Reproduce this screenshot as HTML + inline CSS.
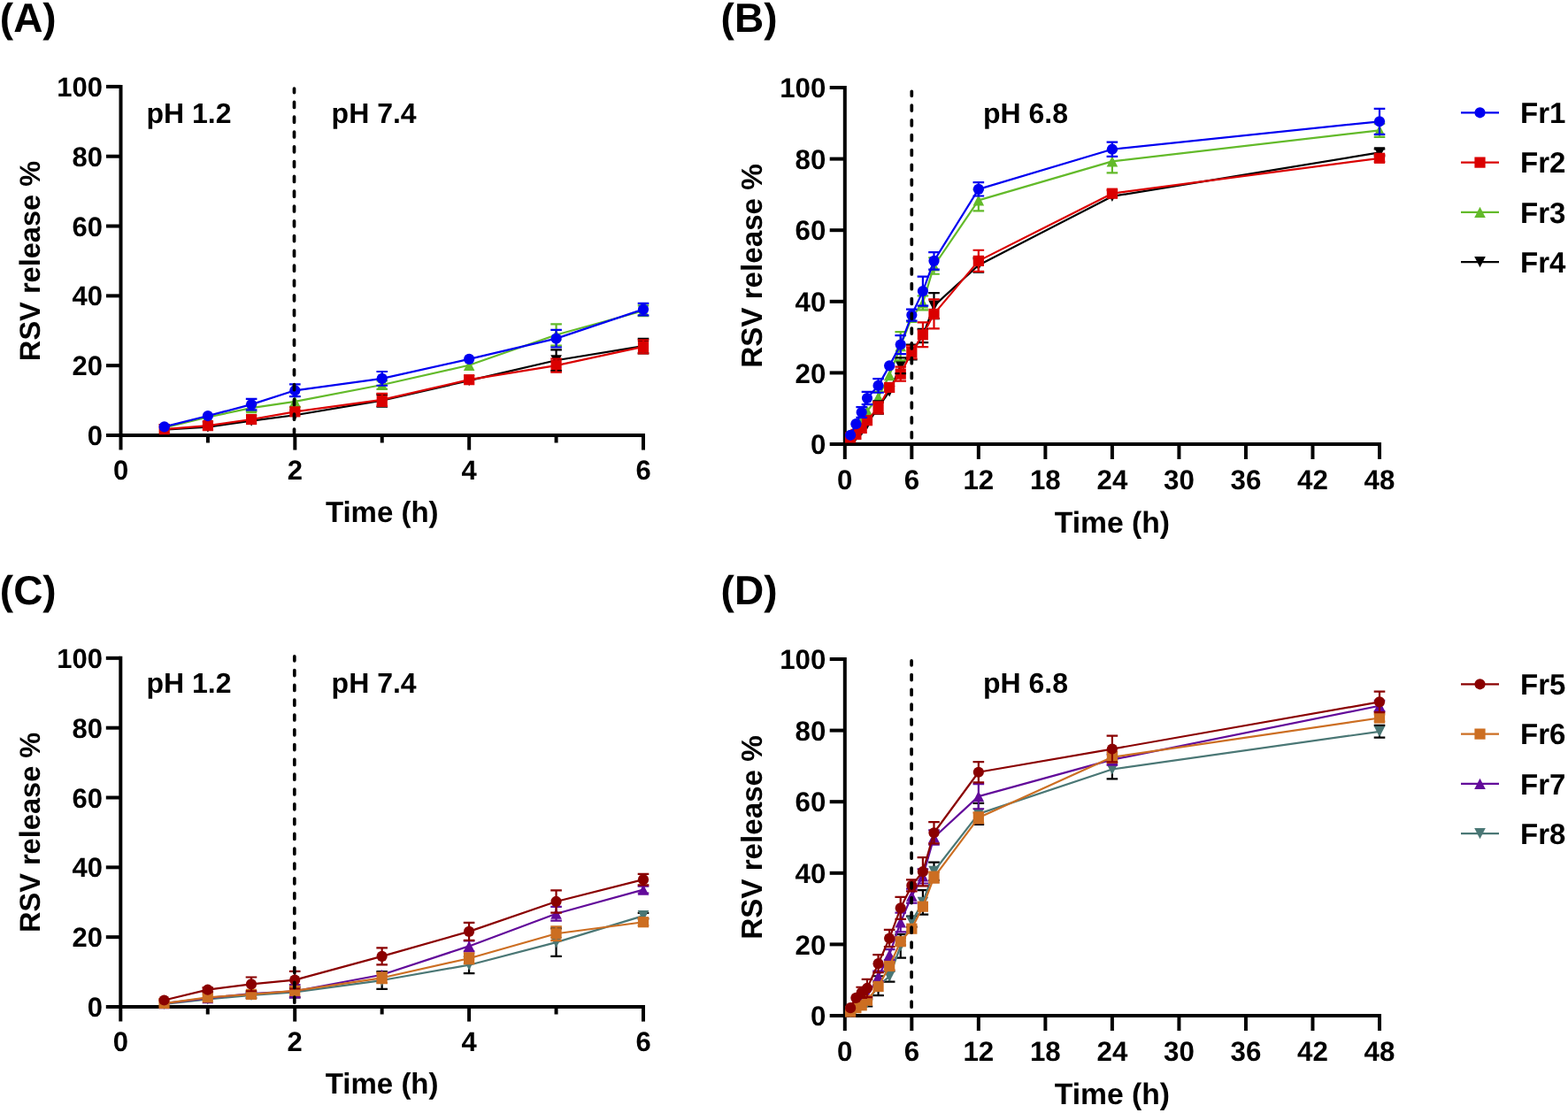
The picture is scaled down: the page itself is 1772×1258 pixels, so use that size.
<!DOCTYPE html>
<html><head><meta charset="utf-8"><title>RSV release profiles</title>
<style>
html,body{margin:0;padding:0;background:#fff;}
svg{display:block;}
text{font-family:'Liberation Sans', Arial, Helvetica, sans-serif;font-weight:bold;fill:#000;text-rendering:geometricPrecision;}
</style></head>
<body>
<svg width="1772" height="1258" viewBox="0 0 1772 1258">
<rect width="1772" height="1258" fill="#fff"/>
<path d="M136.50 95.90V508.60" stroke="#000" stroke-width="4" fill="none"/>
<path d="M120.00 492.00H729.00" stroke="#000" stroke-width="4" fill="none"/>
<path d="M120.00 413.18H136.50" stroke="#000" stroke-width="4"/>
<path d="M120.00 334.36H136.50" stroke="#000" stroke-width="4"/>
<path d="M120.00 255.54H136.50" stroke="#000" stroke-width="4"/>
<path d="M120.00 176.72H136.50" stroke="#000" stroke-width="4"/>
<path d="M120.00 97.90H136.50" stroke="#000" stroke-width="4"/>
<path d="M333.33 492.00V508.60" stroke="#000" stroke-width="4"/>
<path d="M530.17 492.00V508.60" stroke="#000" stroke-width="4"/>
<path d="M727.00 492.00V508.60" stroke="#000" stroke-width="4"/>
<path d="M234.92 492.00V500.50" stroke="#000" stroke-width="4"/>
<path d="M431.75 492.00V500.50" stroke="#000" stroke-width="4"/>
<path d="M628.58 492.00V500.50" stroke="#000" stroke-width="4"/>
<path d="M431.75 445.58V459.76M628.58 395.45V419.09M727.00 382.83V399.39" stroke="#000000" stroke-width="2.2" fill="none"/>
<path d="M185.71 485.54L234.92 482.66L284.12 475.57L333.33 469.22L431.75 452.67L530.17 430.13L628.58 407.27L727.00 391.11" stroke="#000000" stroke-width="2.2" fill="none" stroke-linejoin="round"/>
<path d="M185.71 491.64L192.01 479.44L179.41 479.44Z" fill="#000000"/>
<path d="M234.92 488.76L241.22 476.56L228.62 476.56Z" fill="#000000"/>
<path d="M284.12 481.67L290.43 469.47L277.82 469.47Z" fill="#000000"/>
<path d="M333.33 475.32L339.63 463.12L327.03 463.12Z" fill="#000000"/>
<path d="M431.75 458.77L438.05 446.57L425.45 446.57Z" fill="#000000"/>
<path d="M530.17 436.23L536.47 424.03L523.87 424.03Z" fill="#000000"/>
<path d="M628.58 413.37L634.88 401.17L622.28 401.17Z" fill="#000000"/>
<path d="M727.00 397.21L733.30 385.01L720.70 385.01Z" fill="#000000"/>
<path d="M284.12 457.12V465.00M333.33 448.02V459.84M431.75 430.28V439.74M628.58 366.28V390.72M727.00 345.39V357.22" stroke="#63BA2A" stroke-width="2.2" fill="none"/>
<path d="M277.82 457.12H290.43M277.82 465.00H290.43M327.03 448.02H339.63M327.03 459.84H339.63M425.45 430.28H438.05M425.45 439.74H438.05M622.28 366.28H634.88M622.28 390.72H634.88M720.70 345.39H733.30M720.70 357.22H733.30" stroke="#63BA2A" stroke-width="2.2" fill="none"/>
<path d="M185.71 483.33L234.92 471.51L284.12 461.06L333.33 453.93L431.75 435.01L530.17 412.79L628.58 378.50L727.00 351.31" stroke="#63BA2A" stroke-width="2.2" fill="none" stroke-linejoin="round"/>
<path d="M185.71 477.23L192.01 489.43L179.41 489.43Z" fill="#63BA2A"/>
<path d="M234.92 465.41L241.22 477.61L228.62 477.61Z" fill="#63BA2A"/>
<path d="M284.12 454.96L290.43 467.16L277.82 467.16Z" fill="#63BA2A"/>
<path d="M333.33 447.83L339.63 460.03L327.03 460.03Z" fill="#63BA2A"/>
<path d="M431.75 428.91L438.05 441.11L425.45 441.11Z" fill="#63BA2A"/>
<path d="M530.17 406.69L536.47 418.89L523.87 418.89Z" fill="#63BA2A"/>
<path d="M628.58 372.40L634.88 384.60L622.28 384.60Z" fill="#63BA2A"/>
<path d="M727.00 345.21L733.30 357.41L720.70 357.41Z" fill="#63BA2A"/>
<path d="M185.71 485.06L234.92 481.12L284.12 474.03L333.33 465.32L431.75 451.88L530.17 429.18L628.58 413.18L727.00 391.90" stroke="#DA0000" stroke-width="2.2" fill="none" stroke-linejoin="round"/>
<rect x="179.61" y="478.96" width="12.20" height="12.20" fill="#DA0000"/>
<rect x="228.82" y="475.02" width="12.20" height="12.20" fill="#DA0000"/>
<rect x="278.02" y="467.93" width="12.20" height="12.20" fill="#DA0000"/>
<rect x="327.23" y="459.22" width="12.20" height="12.20" fill="#DA0000"/>
<rect x="425.65" y="445.78" width="12.20" height="12.20" fill="#DA0000"/>
<rect x="524.07" y="423.08" width="12.20" height="12.20" fill="#DA0000"/>
<rect x="622.48" y="407.08" width="12.20" height="12.20" fill="#DA0000"/>
<rect x="720.90" y="385.80" width="12.20" height="12.20" fill="#DA0000"/>
<path d="M425.45 445.58H438.05M425.45 459.76H438.05M622.28 395.45H634.88M622.28 419.09H634.88M720.70 382.83H733.30M720.70 399.39H733.30" stroke="#000000" stroke-width="2.2" fill="none"/>
<path d="M431.75 444.79V458.97M628.58 405.69V420.67M727.00 384.41V399.39" stroke="#DA0000" stroke-width="2.2" fill="none"/>
<path d="M425.45 444.79H438.05M425.45 458.97H438.05M622.28 405.69H634.88M622.28 420.67H634.88M720.70 384.41H733.30M720.70 399.39H733.30" stroke="#DA0000" stroke-width="2.2" fill="none"/>
<path d="M284.12 450.86V463.31M333.33 434.46V448.18M431.75 420.00V435.76M628.58 372.78V392.49M727.00 342.83V356.39" stroke="#0000F0" stroke-width="2.2" fill="none"/>
<path d="M277.82 450.86H290.43M277.82 463.31H290.43M327.03 434.46H339.63M327.03 448.18H339.63M425.45 420.00H438.05M425.45 435.76H438.05M622.28 372.78H634.88M622.28 392.49H634.88M720.70 342.83H733.30M720.70 356.39H733.30" stroke="#0000F0" stroke-width="2.2" fill="none"/>
<path d="M185.71 482.38L234.92 470.05L284.12 457.08L333.33 441.32L431.75 427.88L530.17 405.85L628.58 382.64L727.00 349.61" stroke="#0000F0" stroke-width="2.2" fill="none" stroke-linejoin="round"/>
<circle cx="185.71" cy="482.38" r="6.10" fill="#0000F0"/>
<circle cx="234.92" cy="470.05" r="6.10" fill="#0000F0"/>
<circle cx="284.12" cy="457.08" r="6.10" fill="#0000F0"/>
<circle cx="333.33" cy="441.32" r="6.10" fill="#0000F0"/>
<circle cx="431.75" cy="427.88" r="6.10" fill="#0000F0"/>
<circle cx="530.17" cy="405.85" r="6.10" fill="#0000F0"/>
<circle cx="628.58" cy="382.64" r="6.10" fill="#0000F0"/>
<circle cx="727.00" cy="349.61" r="6.10" fill="#0000F0"/>
<path d="M332.50 100.10V489.50" stroke="#000" stroke-width="3.7" stroke-dasharray="6 10.8" stroke-dashoffset="1.5" stroke-linecap="round" fill="none"/>
<text x="116.00" y="503.10" font-size="31" text-anchor="end" >0</text>
<text x="116.00" y="424.28" font-size="31" text-anchor="end" >20</text>
<text x="116.00" y="345.46" font-size="31" text-anchor="end" >40</text>
<text x="116.00" y="266.64" font-size="31" text-anchor="end" >60</text>
<text x="116.00" y="187.82" font-size="31" text-anchor="end" >80</text>
<text x="116.00" y="109.00" font-size="31" text-anchor="end" >100</text>
<text x="136.50" y="542.00" font-size="31" text-anchor="middle" >0</text>
<text x="333.33" y="542.00" font-size="31" text-anchor="middle" >2</text>
<text x="530.17" y="542.00" font-size="31" text-anchor="middle" >4</text>
<text x="727.00" y="542.00" font-size="31" text-anchor="middle" >6</text>
<text x="0" y="0" font-size="32.6" text-anchor="middle" transform="translate(45.10 294.95) rotate(-90)">RSV release %</text>
<text x="431.75" y="590.10" font-size="33.0" text-anchor="middle" >Time (h)</text>
<text x="165.50" y="139.10" font-size="32" text-anchor="start" >pH 1.2</text>
<text x="374.60" y="139.10" font-size="32" text-anchor="start" >pH 7.4</text>
<text x="-0.20" y="36.30" font-size="46" text-anchor="start" >(A)</text>
<path d="M954.80 97.00V519.00" stroke="#000" stroke-width="4" fill="none"/>
<path d="M937.70 502.00H1561.00" stroke="#000" stroke-width="4" fill="none"/>
<path d="M937.70 421.40H954.80" stroke="#000" stroke-width="4"/>
<path d="M937.70 340.80H954.80" stroke="#000" stroke-width="4"/>
<path d="M937.70 260.20H954.80" stroke="#000" stroke-width="4"/>
<path d="M937.70 179.60H954.80" stroke="#000" stroke-width="4"/>
<path d="M937.70 99.00H954.80" stroke="#000" stroke-width="4"/>
<path d="M1030.33 502.00V519.00" stroke="#000" stroke-width="4"/>
<path d="M1105.85 502.00V519.00" stroke="#000" stroke-width="4"/>
<path d="M1181.38 502.00V519.00" stroke="#000" stroke-width="4"/>
<path d="M1256.90 502.00V519.00" stroke="#000" stroke-width="4"/>
<path d="M1332.42 502.00V519.00" stroke="#000" stroke-width="4"/>
<path d="M1407.95 502.00V519.00" stroke="#000" stroke-width="4"/>
<path d="M1483.47 502.00V519.00" stroke="#000" stroke-width="4"/>
<path d="M1559.00 502.00V519.00" stroke="#000" stroke-width="4"/>
<path d="M992.56 453.24V467.75M1017.74 404.47V422.21M1030.33 389.56V406.49M1042.91 371.83V387.14M1055.50 331.13V360.14M1105.85 291.63V307.75M1559.00 168.32V176.38" stroke="#000000" stroke-width="2.2" fill="none"/>
<path d="M1024.03 389.56H1036.62M1024.03 406.49H1036.62M1036.61 371.83H1049.21M1036.61 387.14H1049.21M1049.20 331.13H1061.80M1049.20 360.14H1061.80M1099.55 291.63H1112.15M1099.55 307.75H1112.15M1552.70 168.32H1565.30M1552.70 176.38H1565.30" stroke="#000000" stroke-width="2.2" fill="none"/>
<path d="M961.09 495.95L967.39 492.33L973.68 486.69L979.97 479.43L992.56 460.49L1005.15 442.36L1017.74 413.34L1030.33 398.03L1042.91 379.49L1055.50 345.64L1105.85 299.69L1256.90 221.92L1559.00 172.35" stroke="#000000" stroke-width="2.2" fill="none" stroke-linejoin="round"/>
<path d="M961.09 502.06L967.39 489.85L954.79 489.85Z" fill="#000000"/>
<path d="M967.39 498.43L973.69 486.23L961.09 486.23Z" fill="#000000"/>
<path d="M973.68 492.79L979.98 480.59L967.38 480.59Z" fill="#000000"/>
<path d="M979.97 485.53L986.27 473.33L973.67 473.33Z" fill="#000000"/>
<path d="M992.56 466.59L998.86 454.39L986.26 454.39Z" fill="#000000"/>
<path d="M1005.15 448.46L1011.45 436.26L998.85 436.26Z" fill="#000000"/>
<path d="M1017.74 419.44L1024.04 407.24L1011.44 407.24Z" fill="#000000"/>
<path d="M1030.33 404.13L1036.62 391.93L1024.03 391.93Z" fill="#000000"/>
<path d="M1042.91 385.59L1049.21 373.39L1036.61 373.39Z" fill="#000000"/>
<path d="M1055.50 351.74L1061.80 339.54L1049.20 339.54Z" fill="#000000"/>
<path d="M1105.85 305.79L1112.15 293.59L1099.55 293.59Z" fill="#000000"/>
<path d="M1256.90 228.02L1263.20 215.82L1250.60 215.82Z" fill="#000000"/>
<path d="M1559.00 178.45L1565.30 166.25L1552.70 166.25Z" fill="#000000"/>
<path d="M992.56 442.76V454.85M1017.74 375.06V407.30M1042.91 334.35V350.47M1055.50 291.23V309.77M1105.85 214.26V238.44M1256.90 169.52V195.32M1559.00 139.70V155.02" stroke="#63BA2A" stroke-width="2.2" fill="none"/>
<path d="M986.26 442.76H998.86M986.26 454.85H998.86M1011.44 375.06H1024.04M1011.44 407.30H1024.04M1036.61 334.35H1049.21M1036.61 350.47H1049.21M1049.20 291.23H1061.80M1049.20 309.77H1061.80M1099.55 214.26H1112.15M1099.55 238.44H1112.15M1250.60 169.52H1263.20M1250.60 195.32H1263.20M1552.70 139.70H1565.30M1552.70 155.02H1565.30" stroke="#63BA2A" stroke-width="2.2" fill="none"/>
<path d="M961.09 492.73L967.39 483.46L973.68 474.19L979.97 464.52L992.56 448.80L1005.15 424.22L1017.74 391.18L1030.33 358.94L1042.91 342.41L1055.50 300.50L1105.85 226.35L1256.90 182.42L1559.00 147.36" stroke="#63BA2A" stroke-width="2.2" fill="none" stroke-linejoin="round"/>
<path d="M961.09 486.63L967.39 498.83L954.79 498.83Z" fill="#63BA2A"/>
<path d="M967.39 477.36L973.69 489.56L961.09 489.56Z" fill="#63BA2A"/>
<path d="M973.68 468.09L979.98 480.29L967.38 480.29Z" fill="#63BA2A"/>
<path d="M979.97 458.42L986.27 470.62L973.67 470.62Z" fill="#63BA2A"/>
<path d="M992.56 442.70L998.86 454.90L986.26 454.90Z" fill="#63BA2A"/>
<path d="M1005.15 418.12L1011.45 430.32L998.85 430.32Z" fill="#63BA2A"/>
<path d="M1017.74 385.07L1024.04 397.28L1011.44 397.28Z" fill="#63BA2A"/>
<path d="M1030.33 352.83L1036.62 365.04L1024.03 365.04Z" fill="#63BA2A"/>
<path d="M1042.91 336.31L1049.21 348.51L1036.61 348.51Z" fill="#63BA2A"/>
<path d="M1055.50 294.40L1061.80 306.60L1049.20 306.60Z" fill="#63BA2A"/>
<path d="M1105.85 220.25L1112.15 232.45L1099.55 232.45Z" fill="#63BA2A"/>
<path d="M1256.90 176.32L1263.20 188.52L1250.60 188.52Z" fill="#63BA2A"/>
<path d="M1559.00 141.26L1565.30 153.46L1552.70 153.46Z" fill="#63BA2A"/>
<path d="M961.09 494.42L967.39 490.92L973.68 483.95L979.97 475.20L992.56 460.89L1005.15 437.92L1017.74 422.61L1030.33 398.03L1042.91 378.28L1055.50 354.90L1105.85 294.86L1256.90 218.69L1559.00 178.79" stroke="#DA0000" stroke-width="2.2" fill="none" stroke-linejoin="round"/>
<rect x="954.99" y="488.32" width="12.20" height="12.20" fill="#DA0000"/>
<rect x="961.29" y="484.82" width="12.20" height="12.20" fill="#DA0000"/>
<rect x="967.58" y="477.85" width="12.20" height="12.20" fill="#DA0000"/>
<rect x="973.87" y="469.10" width="12.20" height="12.20" fill="#DA0000"/>
<rect x="986.46" y="454.79" width="12.20" height="12.20" fill="#DA0000"/>
<rect x="999.05" y="431.82" width="12.20" height="12.20" fill="#DA0000"/>
<rect x="1011.64" y="416.51" width="12.20" height="12.20" fill="#DA0000"/>
<rect x="1024.23" y="391.93" width="12.20" height="12.20" fill="#DA0000"/>
<rect x="1036.81" y="372.18" width="12.20" height="12.20" fill="#DA0000"/>
<rect x="1049.40" y="348.80" width="12.20" height="12.20" fill="#DA0000"/>
<rect x="1099.75" y="288.76" width="12.20" height="12.20" fill="#DA0000"/>
<rect x="1250.80" y="212.59" width="12.20" height="12.20" fill="#DA0000"/>
<rect x="1552.90" y="172.69" width="12.20" height="12.20" fill="#DA0000"/>
<path d="M986.26 453.24H998.86M986.26 467.75H998.86M1011.44 404.47H1024.04M1011.44 422.21H1024.04" stroke="#000000" stroke-width="2.2" fill="none"/>
<path d="M992.56 454.45V467.34M1017.74 414.55V430.67M1030.33 390.77V405.28M1042.91 364.38V392.18M1055.50 338.38V371.43M1105.85 282.77V306.95M1256.90 214.66V222.72M1559.00 174.76V182.82" stroke="#DA0000" stroke-width="2.2" fill="none"/>
<path d="M986.26 454.45H998.86M986.26 467.34H998.86M1011.44 414.55H1024.04M1011.44 430.67H1024.04M1024.03 390.77H1036.62M1024.03 405.28H1036.62M1036.61 364.38H1049.21M1036.61 392.18H1049.21M1049.20 338.38H1061.80M1049.20 371.43H1061.80M1099.55 282.77H1112.15M1099.55 306.95H1112.15M1250.60 214.66H1263.20M1250.60 222.72H1263.20M1552.70 174.76H1565.30M1552.70 182.82H1565.30" stroke="#DA0000" stroke-width="2.2" fill="none"/>
<path d="M973.68 460.17V471.86M979.97 442.88V457.15M992.56 428.05V443.77M1017.74 379.08V400.04M1030.33 349.67V362.56M1042.91 312.59V345.64M1055.50 285.19V304.53M1105.85 206.20V221.51M1256.90 160.66V176.78M1559.00 122.78V151.79" stroke="#0000F0" stroke-width="2.2" fill="none"/>
<path d="M967.38 460.17H979.98M967.38 471.86H979.98M973.67 442.88H986.27M973.67 457.15H986.27M986.26 428.05H998.86M986.26 443.77H998.86M1011.44 379.08H1024.04M1011.44 400.04H1024.04M1024.03 349.67H1036.62M1024.03 362.56H1036.62M1036.61 312.59H1049.21M1036.61 345.64H1049.21M1049.20 285.19H1061.80M1049.20 304.53H1061.80M1099.55 206.20H1112.15M1099.55 221.51H1112.15M1250.60 160.66H1263.20M1250.60 176.78H1263.20M1552.70 122.78H1565.30M1552.70 151.79H1565.30" stroke="#0000F0" stroke-width="2.2" fill="none"/>
<path d="M961.09 491.80L967.39 479.15L973.68 466.01L979.97 450.01L992.56 435.91L1005.15 413.34L1017.74 389.56L1030.33 356.11L1042.91 329.11L1055.50 294.86L1105.85 213.86L1256.90 168.72L1559.00 137.29" stroke="#0000F0" stroke-width="2.2" fill="none" stroke-linejoin="round"/>
<circle cx="961.09" cy="491.80" r="6.10" fill="#0000F0"/>
<circle cx="967.39" cy="479.15" r="6.10" fill="#0000F0"/>
<circle cx="973.68" cy="466.01" r="6.10" fill="#0000F0"/>
<circle cx="979.97" cy="450.01" r="6.10" fill="#0000F0"/>
<circle cx="992.56" cy="435.91" r="6.10" fill="#0000F0"/>
<circle cx="1005.15" cy="413.34" r="6.10" fill="#0000F0"/>
<circle cx="1017.74" cy="389.56" r="6.10" fill="#0000F0"/>
<circle cx="1030.33" cy="356.11" r="6.10" fill="#0000F0"/>
<circle cx="1042.91" cy="329.11" r="6.10" fill="#0000F0"/>
<circle cx="1055.50" cy="294.86" r="6.10" fill="#0000F0"/>
<circle cx="1105.85" cy="213.86" r="6.10" fill="#0000F0"/>
<circle cx="1256.90" cy="168.72" r="6.10" fill="#0000F0"/>
<circle cx="1559.00" cy="137.29" r="6.10" fill="#0000F0"/>
<path d="M1030.30 103.30V499.50" stroke="#000" stroke-width="3.7" stroke-dasharray="6 10.8" stroke-dashoffset="1.0" stroke-linecap="round" fill="none"/>
<text x="933.40" y="513.21" font-size="31.3" text-anchor="end" >0</text>
<text x="933.40" y="432.61" font-size="31.3" text-anchor="end" >20</text>
<text x="933.40" y="352.01" font-size="31.3" text-anchor="end" >40</text>
<text x="933.40" y="271.41" font-size="31.3" text-anchor="end" >60</text>
<text x="933.40" y="190.81" font-size="31.3" text-anchor="end" >80</text>
<text x="933.40" y="110.21" font-size="31.3" text-anchor="end" >100</text>
<text x="954.80" y="552.80" font-size="31.3" text-anchor="middle" >0</text>
<text x="1030.33" y="552.80" font-size="31.3" text-anchor="middle" >6</text>
<text x="1105.85" y="552.80" font-size="31.3" text-anchor="middle" >12</text>
<text x="1181.38" y="552.80" font-size="31.3" text-anchor="middle" >18</text>
<text x="1256.90" y="552.80" font-size="31.3" text-anchor="middle" >24</text>
<text x="1332.42" y="552.80" font-size="31.3" text-anchor="middle" >30</text>
<text x="1407.95" y="552.80" font-size="31.3" text-anchor="middle" >36</text>
<text x="1483.47" y="552.80" font-size="31.3" text-anchor="middle" >42</text>
<text x="1559.00" y="552.80" font-size="31.3" text-anchor="middle" >48</text>
<text x="0" y="0" font-size="33.2" text-anchor="middle" transform="translate(861.10 300.50) rotate(-90)">RSV release %</text>
<text x="1256.90" y="602.00" font-size="33.7" text-anchor="middle" >Time (h)</text>
<text x="1110.90" y="139.10" font-size="32" text-anchor="start" >pH 6.8</text>
<text x="814.60" y="36.10" font-size="46" text-anchor="start" >(B)</text>
<path d="M136.30 741.85V1154.60" stroke="#000" stroke-width="4" fill="none"/>
<path d="M119.80 1138.00H729.00" stroke="#000" stroke-width="4" fill="none"/>
<path d="M119.80 1059.17H136.30" stroke="#000" stroke-width="4"/>
<path d="M119.80 980.34H136.30" stroke="#000" stroke-width="4"/>
<path d="M119.80 901.51H136.30" stroke="#000" stroke-width="4"/>
<path d="M119.80 822.68H136.30" stroke="#000" stroke-width="4"/>
<path d="M119.80 743.85H136.30" stroke="#000" stroke-width="4"/>
<path d="M333.20 1138.00V1154.60" stroke="#000" stroke-width="4"/>
<path d="M530.10 1138.00V1154.60" stroke="#000" stroke-width="4"/>
<path d="M727.00 1138.00V1154.60" stroke="#000" stroke-width="4"/>
<path d="M234.75 1138.00V1146.50" stroke="#000" stroke-width="4"/>
<path d="M431.65 1138.00V1146.50" stroke="#000" stroke-width="4"/>
<path d="M628.55 1138.00V1146.50" stroke="#000" stroke-width="4"/>
<path d="M283.98 1121.84V1128.15M333.20 1115.53V1127.36M431.65 1098.19V1117.90M530.10 1081.24V1100.16M628.55 1049.32V1080.85M727.00 1031.97V1038.28" stroke="#000" stroke-width="2.2" fill="none"/>
<path d="M277.68 1121.84H290.28M277.68 1128.15H290.28M326.90 1115.53H339.50M326.90 1127.36H339.50M425.35 1098.19H437.95M425.35 1117.90H437.95M523.80 1081.24H536.40M523.80 1100.16H536.40M622.25 1049.32H634.85M622.25 1080.85H634.85M720.70 1031.97H733.30M720.70 1038.28H733.30" stroke="#000" stroke-width="2.2" fill="none"/>
<path d="M185.53 1134.85L234.75 1129.33L283.98 1124.99L333.20 1121.45L431.65 1108.04L530.10 1090.70L628.55 1065.08L727.00 1035.13" stroke="#4A7775" stroke-width="2.2" fill="none" stroke-linejoin="round"/>
<path d="M185.53 1140.95L191.82 1128.75L179.23 1128.75Z" fill="#4A7775"/>
<path d="M234.75 1135.43L241.05 1123.23L228.45 1123.23Z" fill="#4A7775"/>
<path d="M283.98 1131.09L290.28 1118.89L277.68 1118.89Z" fill="#4A7775"/>
<path d="M333.20 1127.55L339.50 1115.35L326.90 1115.35Z" fill="#4A7775"/>
<path d="M431.65 1114.14L437.95 1101.94L425.35 1101.94Z" fill="#4A7775"/>
<path d="M530.10 1096.80L536.40 1084.60L523.80 1084.60Z" fill="#4A7775"/>
<path d="M628.55 1071.18L634.85 1058.98L622.25 1058.98Z" fill="#4A7775"/>
<path d="M727.00 1041.23L733.30 1029.03L720.70 1029.03Z" fill="#4A7775"/>
<path d="M333.20 1113.17V1127.36M530.10 1063.51V1075.33M628.55 1024.88V1040.64M727.00 1001.62V1009.51" stroke="#620A9A" stroke-width="2.2" fill="none"/>
<path d="M326.90 1113.17H339.50M326.90 1127.36H339.50M523.80 1063.51H536.40M523.80 1075.33H536.40M622.25 1024.88H634.85M622.25 1040.64H634.85M720.70 1001.62H733.30M720.70 1009.51H733.30" stroke="#620A9A" stroke-width="2.2" fill="none"/>
<path d="M185.53 1134.06L234.75 1128.15L283.98 1123.02L333.20 1120.26L431.65 1101.74L530.10 1069.42L628.55 1032.76L727.00 1005.57" stroke="#620A9A" stroke-width="2.2" fill="none" stroke-linejoin="round"/>
<path d="M185.53 1127.96L191.82 1140.16L179.23 1140.16Z" fill="#620A9A"/>
<path d="M234.75 1122.05L241.05 1134.25L228.45 1134.25Z" fill="#620A9A"/>
<path d="M283.98 1116.92L290.28 1129.12L277.68 1129.12Z" fill="#620A9A"/>
<path d="M333.20 1114.16L339.50 1126.36L326.90 1126.36Z" fill="#620A9A"/>
<path d="M431.65 1095.64L437.95 1107.84L425.35 1107.84Z" fill="#620A9A"/>
<path d="M530.10 1063.32L536.40 1075.52L523.80 1075.52Z" fill="#620A9A"/>
<path d="M628.55 1026.66L634.85 1038.86L622.25 1038.86Z" fill="#620A9A"/>
<path d="M727.00 999.47L733.30 1011.67L720.70 1011.67Z" fill="#620A9A"/>
<path d="M431.65 1099.37V1111.20M530.10 1077.30V1089.13M628.55 1047.35V1063.11M727.00 1038.28V1046.16" stroke="#CC6E22" stroke-width="2.2" fill="none"/>
<path d="M425.35 1099.37H437.95M425.35 1111.20H437.95M523.80 1077.30H536.40M523.80 1089.13H536.40M622.25 1047.35H634.85M622.25 1063.11H634.85M720.70 1038.28H733.30M720.70 1046.16H733.30" stroke="#CC6E22" stroke-width="2.2" fill="none"/>
<path d="M185.53 1134.06L234.75 1127.36L283.98 1123.81L333.20 1119.87L431.65 1105.29L530.10 1083.21L628.55 1055.23L727.00 1042.22" stroke="#CC6E22" stroke-width="2.2" fill="none" stroke-linejoin="round"/>
<rect x="179.43" y="1127.96" width="12.20" height="12.20" fill="#CC6E22"/>
<rect x="228.65" y="1121.26" width="12.20" height="12.20" fill="#CC6E22"/>
<rect x="277.88" y="1117.71" width="12.20" height="12.20" fill="#CC6E22"/>
<rect x="327.10" y="1113.77" width="12.20" height="12.20" fill="#CC6E22"/>
<rect x="425.55" y="1099.19" width="12.20" height="12.20" fill="#CC6E22"/>
<rect x="524.00" y="1077.11" width="12.20" height="12.20" fill="#CC6E22"/>
<rect x="622.45" y="1049.13" width="12.20" height="12.20" fill="#CC6E22"/>
<rect x="720.90" y="1036.12" width="12.20" height="12.20" fill="#CC6E22"/>
<path d="M234.75 1116.32V1121.05M283.98 1104.50V1120.26M333.20 1097.80V1117.50M431.65 1071.39V1090.31M530.10 1042.81V1062.91M628.55 1006.35V1031.58M727.00 987.83V1000.44" stroke="#8A0000" stroke-width="2.2" fill="none"/>
<path d="M228.45 1116.32H241.05M228.45 1121.05H241.05M277.68 1104.50H290.28M277.68 1120.26H290.28M326.90 1097.80H339.50M326.90 1117.50H339.50M425.35 1071.39H437.95M425.35 1090.31H437.95M523.80 1042.81H536.40M523.80 1062.91H536.40M622.25 1006.35H634.85M622.25 1031.58H634.85M720.70 987.83H733.30M720.70 1000.44H733.30" stroke="#8A0000" stroke-width="2.2" fill="none"/>
<path d="M185.53 1130.51L234.75 1118.69L283.98 1112.38L333.20 1107.65L431.65 1080.85L530.10 1052.86L628.55 1018.97L727.00 994.14" stroke="#8A0000" stroke-width="2.2" fill="none" stroke-linejoin="round"/>
<circle cx="185.53" cy="1130.51" r="6.10" fill="#8A0000"/>
<circle cx="234.75" cy="1118.69" r="6.10" fill="#8A0000"/>
<circle cx="283.98" cy="1112.38" r="6.10" fill="#8A0000"/>
<circle cx="333.20" cy="1107.65" r="6.10" fill="#8A0000"/>
<circle cx="431.65" cy="1080.85" r="6.10" fill="#8A0000"/>
<circle cx="530.10" cy="1052.86" r="6.10" fill="#8A0000"/>
<circle cx="628.55" cy="1018.97" r="6.10" fill="#8A0000"/>
<circle cx="727.00" cy="994.14" r="6.10" fill="#8A0000"/>
<path d="M332.80 741.90V1135.50" stroke="#000" stroke-width="3.7" stroke-dasharray="6 10.8" stroke-dashoffset="1.1" stroke-linecap="round" fill="none"/>
<text x="116.00" y="1149.10" font-size="31" text-anchor="end" >0</text>
<text x="116.00" y="1070.27" font-size="31" text-anchor="end" >20</text>
<text x="116.00" y="991.44" font-size="31" text-anchor="end" >40</text>
<text x="116.00" y="912.61" font-size="31" text-anchor="end" >60</text>
<text x="116.00" y="833.78" font-size="31" text-anchor="end" >80</text>
<text x="116.00" y="754.95" font-size="31" text-anchor="end" >100</text>
<text x="136.30" y="1188.00" font-size="31" text-anchor="middle" >0</text>
<text x="333.20" y="1188.00" font-size="31" text-anchor="middle" >2</text>
<text x="530.10" y="1188.00" font-size="31" text-anchor="middle" >4</text>
<text x="727.00" y="1188.00" font-size="31" text-anchor="middle" >6</text>
<text x="0" y="0" font-size="32.6" text-anchor="middle" transform="translate(45.10 940.92) rotate(-90)">RSV release %</text>
<text x="431.65" y="1236.10" font-size="33.0" text-anchor="middle" >Time (h)</text>
<text x="165.50" y="782.50" font-size="32" text-anchor="start" >pH 1.2</text>
<text x="374.60" y="782.50" font-size="32" text-anchor="start" >pH 7.4</text>
<text x="-0.20" y="683.10" font-size="46" text-anchor="start" >(C)</text>
<path d="M954.80 743.00V1165.00" stroke="#000" stroke-width="4" fill="none"/>
<path d="M937.70 1148.00H1561.00" stroke="#000" stroke-width="4" fill="none"/>
<path d="M937.70 1067.40H954.80" stroke="#000" stroke-width="4"/>
<path d="M937.70 986.80H954.80" stroke="#000" stroke-width="4"/>
<path d="M937.70 906.20H954.80" stroke="#000" stroke-width="4"/>
<path d="M937.70 825.60H954.80" stroke="#000" stroke-width="4"/>
<path d="M937.70 745.00H954.80" stroke="#000" stroke-width="4"/>
<path d="M1030.33 1148.00V1165.00" stroke="#000" stroke-width="4"/>
<path d="M1105.85 1148.00V1165.00" stroke="#000" stroke-width="4"/>
<path d="M1181.38 1148.00V1165.00" stroke="#000" stroke-width="4"/>
<path d="M1256.90 1148.00V1165.00" stroke="#000" stroke-width="4"/>
<path d="M1332.42 1148.00V1165.00" stroke="#000" stroke-width="4"/>
<path d="M1407.95 1148.00V1165.00" stroke="#000" stroke-width="4"/>
<path d="M1483.47 1148.00V1165.00" stroke="#000" stroke-width="4"/>
<path d="M1559.00 1148.00V1165.00" stroke="#000" stroke-width="4"/>
<path d="M979.97 1129.46V1137.52M992.56 1103.27V1125.03M1005.15 1097.62V1109.71M1017.74 1056.12V1082.71M1030.33 1035.56V1047.65M1042.91 1006.14V1033.55M1055.50 974.71V994.86M1105.85 907.81V931.99M1256.90 858.65V880.41M1559.00 819.96V833.66" stroke="#000" stroke-width="2.2" fill="none"/>
<path d="M973.67 1129.46H986.27M973.67 1137.52H986.27M986.26 1103.27H998.86M986.26 1125.03H998.86M998.85 1097.62H1011.45M998.85 1109.71H1011.45M1011.44 1056.12H1024.04M1011.44 1082.71H1024.04M1024.03 1035.56H1036.62M1024.03 1047.65H1036.62M1036.61 1006.14H1049.21M1036.61 1033.55H1049.21M1049.20 974.71H1061.80M1049.20 994.86H1061.80M1099.55 907.81H1112.15M1099.55 931.99H1112.15M1250.60 858.65H1263.20M1250.60 880.41H1263.20M1552.70 819.96H1565.30M1552.70 833.66H1565.30" stroke="#000" stroke-width="2.2" fill="none"/>
<path d="M961.09 1144.37L967.39 1139.94L973.68 1135.91L979.97 1133.49L992.56 1114.15L1005.15 1103.67L1017.74 1069.41L1030.33 1041.61L1042.91 1019.85L1055.50 984.78L1105.85 919.90L1256.90 869.53L1559.00 826.81" stroke="#4A7775" stroke-width="2.2" fill="none" stroke-linejoin="round"/>
<path d="M961.09 1150.47L967.39 1138.27L954.79 1138.27Z" fill="#4A7775"/>
<path d="M967.39 1146.04L973.69 1133.84L961.09 1133.84Z" fill="#4A7775"/>
<path d="M973.68 1142.01L979.98 1129.81L967.38 1129.81Z" fill="#4A7775"/>
<path d="M979.97 1139.59L986.27 1127.39L973.67 1127.39Z" fill="#4A7775"/>
<path d="M992.56 1120.25L998.86 1108.05L986.26 1108.05Z" fill="#4A7775"/>
<path d="M1005.15 1109.77L1011.45 1097.57L998.85 1097.57Z" fill="#4A7775"/>
<path d="M1017.74 1075.51L1024.04 1063.32L1011.44 1063.32Z" fill="#4A7775"/>
<path d="M1030.33 1047.71L1036.62 1035.51L1024.03 1035.51Z" fill="#4A7775"/>
<path d="M1042.91 1025.95L1049.21 1013.75L1036.61 1013.75Z" fill="#4A7775"/>
<path d="M1055.50 990.88L1061.80 978.68L1049.20 978.68Z" fill="#4A7775"/>
<path d="M1105.85 926.00L1112.15 913.80L1099.55 913.80Z" fill="#4A7775"/>
<path d="M1256.90 875.63L1263.20 863.43L1250.60 863.43Z" fill="#4A7775"/>
<path d="M1559.00 832.91L1565.30 820.71L1552.70 820.71Z" fill="#4A7775"/>
<path d="M992.56 1097.62V1109.71M1005.15 1073.04V1085.13M1017.74 1031.53V1053.30M1030.33 1004.53V1020.65M1042.91 982.37V998.49M1055.50 938.44V954.56M1105.85 886.05V914.26M1256.90 852.60V864.69M1559.00 791.75V803.84" stroke="#620A9A" stroke-width="2.2" fill="none"/>
<path d="M986.26 1097.62H998.86M986.26 1109.71H998.86M998.85 1073.04H1011.45M998.85 1085.13H1011.45M1011.44 1031.53H1024.04M1011.44 1053.30H1024.04M1024.03 1004.53H1036.62M1024.03 1020.65H1036.62M1036.61 982.37H1049.21M1036.61 998.49H1049.21M1049.20 938.44H1061.80M1049.20 954.56H1061.80M1099.55 886.05H1112.15M1099.55 914.26H1112.15M1250.60 852.60H1263.20M1250.60 864.69H1263.20M1552.70 791.75H1565.30M1552.70 803.84H1565.30" stroke="#620A9A" stroke-width="2.2" fill="none"/>
<path d="M961.09 1143.16L967.39 1135.91L973.68 1131.07L979.97 1125.84L992.56 1103.67L1005.15 1079.09L1017.74 1042.41L1030.33 1012.59L1042.91 990.43L1055.50 946.50L1105.85 900.15L1256.90 858.65L1559.00 797.79" stroke="#620A9A" stroke-width="2.2" fill="none" stroke-linejoin="round"/>
<path d="M961.09 1137.06L967.39 1149.26L954.79 1149.26Z" fill="#620A9A"/>
<path d="M967.39 1129.81L973.69 1142.01L961.09 1142.01Z" fill="#620A9A"/>
<path d="M973.68 1124.97L979.98 1137.17L967.38 1137.17Z" fill="#620A9A"/>
<path d="M979.97 1119.74L986.27 1131.93L973.67 1131.93Z" fill="#620A9A"/>
<path d="M992.56 1097.57L998.86 1109.77L986.26 1109.77Z" fill="#620A9A"/>
<path d="M1005.15 1072.99L1011.45 1085.19L998.85 1085.19Z" fill="#620A9A"/>
<path d="M1017.74 1036.31L1024.04 1048.51L1011.44 1048.51Z" fill="#620A9A"/>
<path d="M1030.33 1006.49L1036.62 1018.69L1024.03 1018.69Z" fill="#620A9A"/>
<path d="M1042.91 984.33L1049.21 996.53L1036.61 996.53Z" fill="#620A9A"/>
<path d="M1055.50 940.40L1061.80 952.60L1049.20 952.60Z" fill="#620A9A"/>
<path d="M1105.85 894.05L1112.15 906.25L1099.55 906.25Z" fill="#620A9A"/>
<path d="M1256.90 852.55L1263.20 864.75L1250.60 864.75Z" fill="#620A9A"/>
<path d="M1559.00 791.69L1565.30 803.89L1552.70 803.89Z" fill="#620A9A"/>
<path d="M1005.15 1087.95V1096.01M1017.74 1060.15V1068.21M1055.50 985.59V997.68M1105.85 918.29V930.38M1256.90 849.78V861.87M1559.00 807.46V815.52" stroke="#CC6E22" stroke-width="2.2" fill="none"/>
<path d="M998.85 1087.95H1011.45M998.85 1096.01H1011.45M1011.44 1060.15H1024.04M1011.44 1068.21H1024.04M1049.20 985.59H1061.80M1049.20 997.68H1061.80M1099.55 918.29H1112.15M1099.55 930.38H1112.15M1250.60 849.78H1263.20M1250.60 861.87H1263.20M1552.70 807.46H1565.30M1552.70 815.52H1565.30" stroke="#CC6E22" stroke-width="2.2" fill="none"/>
<path d="M961.09 1143.57L967.39 1139.13L973.68 1136.31L979.97 1130.67L992.56 1114.95L1005.15 1091.98L1017.74 1064.18L1030.33 1049.67L1042.91 1024.68L1055.50 991.64L1105.85 924.34L1256.90 855.83L1559.00 811.50" stroke="#CC6E22" stroke-width="2.2" fill="none" stroke-linejoin="round"/>
<rect x="954.99" y="1137.47" width="12.20" height="12.20" fill="#CC6E22"/>
<rect x="961.29" y="1133.03" width="12.20" height="12.20" fill="#CC6E22"/>
<rect x="967.58" y="1130.21" width="12.20" height="12.20" fill="#CC6E22"/>
<rect x="973.87" y="1124.57" width="12.20" height="12.20" fill="#CC6E22"/>
<rect x="986.46" y="1108.85" width="12.20" height="12.20" fill="#CC6E22"/>
<rect x="999.05" y="1085.88" width="12.20" height="12.20" fill="#CC6E22"/>
<rect x="1011.64" y="1058.08" width="12.20" height="12.20" fill="#CC6E22"/>
<rect x="1024.23" y="1043.57" width="12.20" height="12.20" fill="#CC6E22"/>
<rect x="1036.81" y="1018.58" width="12.20" height="12.20" fill="#CC6E22"/>
<rect x="1049.40" y="985.54" width="12.20" height="12.20" fill="#CC6E22"/>
<rect x="1099.75" y="918.24" width="12.20" height="12.20" fill="#CC6E22"/>
<rect x="1250.80" y="849.73" width="12.20" height="12.20" fill="#CC6E22"/>
<rect x="1552.90" y="805.39" width="12.20" height="12.20" fill="#CC6E22"/>
<path d="M973.68 1115.76V1127.85M979.97 1106.89V1127.04M992.56 1079.09V1099.24M1005.15 1050.88V1070.22M1017.74 1013.80V1038.79M1030.33 994.46V1007.35M1042.91 969.07V1001.31M1055.50 929.17V953.35M1105.85 861.06V884.44M1256.90 831.64V861.47M1559.00 781.67V805.05" stroke="#8A0000" stroke-width="2.2" fill="none"/>
<path d="M967.38 1115.76H979.98M967.38 1127.85H979.98M973.67 1106.89H986.27M973.67 1127.04H986.27M986.26 1079.09H998.86M986.26 1099.24H998.86M998.85 1050.88H1011.45M998.85 1070.22H1011.45M1011.44 1013.80H1024.04M1011.44 1038.79H1024.04M1024.03 994.46H1036.62M1024.03 1007.35H1036.62M1036.61 969.07H1049.21M1036.61 1001.31H1049.21M1049.20 929.17H1061.80M1049.20 953.35H1061.80M1099.55 861.06H1112.15M1099.55 884.44H1112.15M1250.60 831.64H1263.20M1250.60 861.47H1263.20M1552.70 781.67H1565.30M1552.70 805.05H1565.30" stroke="#8A0000" stroke-width="2.2" fill="none"/>
<path d="M961.09 1139.13L967.39 1127.85L973.68 1121.81L979.97 1116.97L992.56 1089.16L1005.15 1060.55L1017.74 1026.29L1030.33 1000.90L1042.91 985.19L1055.50 941.26L1105.85 872.75L1256.90 846.56L1559.00 793.36" stroke="#8A0000" stroke-width="2.2" fill="none" stroke-linejoin="round"/>
<circle cx="961.09" cy="1139.13" r="6.10" fill="#8A0000"/>
<circle cx="967.39" cy="1127.85" r="6.10" fill="#8A0000"/>
<circle cx="973.68" cy="1121.81" r="6.10" fill="#8A0000"/>
<circle cx="979.97" cy="1116.97" r="6.10" fill="#8A0000"/>
<circle cx="992.56" cy="1089.16" r="6.10" fill="#8A0000"/>
<circle cx="1005.15" cy="1060.55" r="6.10" fill="#8A0000"/>
<circle cx="1017.74" cy="1026.29" r="6.10" fill="#8A0000"/>
<circle cx="1030.33" cy="1000.90" r="6.10" fill="#8A0000"/>
<circle cx="1042.91" cy="985.19" r="6.10" fill="#8A0000"/>
<circle cx="1055.50" cy="941.26" r="6.10" fill="#8A0000"/>
<circle cx="1105.85" cy="872.75" r="6.10" fill="#8A0000"/>
<circle cx="1256.90" cy="846.56" r="6.10" fill="#8A0000"/>
<circle cx="1559.00" cy="793.36" r="6.10" fill="#8A0000"/>
<path d="M1030.10 746.90V1145.50" stroke="#000" stroke-width="3.7" stroke-dasharray="6 10.8" stroke-dashoffset="1.1" stroke-linecap="round" fill="none"/>
<text x="933.40" y="1159.21" font-size="31.3" text-anchor="end" >0</text>
<text x="933.40" y="1078.61" font-size="31.3" text-anchor="end" >20</text>
<text x="933.40" y="998.01" font-size="31.3" text-anchor="end" >40</text>
<text x="933.40" y="917.41" font-size="31.3" text-anchor="end" >60</text>
<text x="933.40" y="836.81" font-size="31.3" text-anchor="end" >80</text>
<text x="933.40" y="756.21" font-size="31.3" text-anchor="end" >100</text>
<text x="954.80" y="1198.80" font-size="31.3" text-anchor="middle" >0</text>
<text x="1030.33" y="1198.80" font-size="31.3" text-anchor="middle" >6</text>
<text x="1105.85" y="1198.80" font-size="31.3" text-anchor="middle" >12</text>
<text x="1181.38" y="1198.80" font-size="31.3" text-anchor="middle" >18</text>
<text x="1256.90" y="1198.80" font-size="31.3" text-anchor="middle" >24</text>
<text x="1332.42" y="1198.80" font-size="31.3" text-anchor="middle" >30</text>
<text x="1407.95" y="1198.80" font-size="31.3" text-anchor="middle" >36</text>
<text x="1483.47" y="1198.80" font-size="31.3" text-anchor="middle" >42</text>
<text x="1559.00" y="1198.80" font-size="31.3" text-anchor="middle" >48</text>
<text x="0" y="0" font-size="33.2" text-anchor="middle" transform="translate(861.10 946.50) rotate(-90)">RSV release %</text>
<text x="1256.90" y="1248.00" font-size="33.7" text-anchor="middle" >Time (h)</text>
<text x="1110.90" y="782.50" font-size="32" text-anchor="start" >pH 6.8</text>
<text x="814.60" y="682.90" font-size="46" text-anchor="start" >(D)</text>
<path d="M1651 127.30H1694" stroke="#0000F0" stroke-width="2.2"/>
<circle cx="1672.50" cy="127.30" r="6.10" fill="#0000F0"/>
<text x="1718.00" y="139.11" font-size="33" text-anchor="start" >Fr1</text>
<path d="M1651 183.60H1694" stroke="#DA0000" stroke-width="2.2"/>
<rect x="1666.40" y="177.50" width="12.20" height="12.20" fill="#DA0000"/>
<text x="1718.00" y="195.41" font-size="33" text-anchor="start" >Fr2</text>
<path d="M1651 239.90H1694" stroke="#63BA2A" stroke-width="2.2"/>
<path d="M1672.50 233.80L1678.80 246.00L1666.20 246.00Z" fill="#63BA2A"/>
<text x="1718.00" y="251.71" font-size="33" text-anchor="start" >Fr3</text>
<path d="M1651 296.20H1694" stroke="#000000" stroke-width="2.2"/>
<path d="M1672.50 302.30L1678.80 290.10L1666.20 290.10Z" fill="#000000"/>
<text x="1718.00" y="308.01" font-size="33" text-anchor="start" >Fr4</text>
<path d="M1651 773.30H1694" stroke="#8A0000" stroke-width="2.2"/>
<circle cx="1672.50" cy="773.30" r="6.10" fill="#8A0000"/>
<text x="1718.00" y="785.11" font-size="33" text-anchor="start" >Fr5</text>
<path d="M1651 829.60H1694" stroke="#CC6E22" stroke-width="2.2"/>
<rect x="1666.40" y="823.50" width="12.20" height="12.20" fill="#CC6E22"/>
<text x="1718.00" y="841.41" font-size="33" text-anchor="start" >Fr6</text>
<path d="M1651 885.90H1694" stroke="#620A9A" stroke-width="2.2"/>
<path d="M1672.50 879.80L1678.80 892.00L1666.20 892.00Z" fill="#620A9A"/>
<text x="1718.00" y="897.71" font-size="33" text-anchor="start" >Fr7</text>
<path d="M1651 942.20H1694" stroke="#4A7775" stroke-width="2.2"/>
<path d="M1672.50 948.30L1678.80 936.10L1666.20 936.10Z" fill="#4A7775"/>
<text x="1718.00" y="954.01" font-size="33" text-anchor="start" >Fr8</text>
</svg>
</body></html>
